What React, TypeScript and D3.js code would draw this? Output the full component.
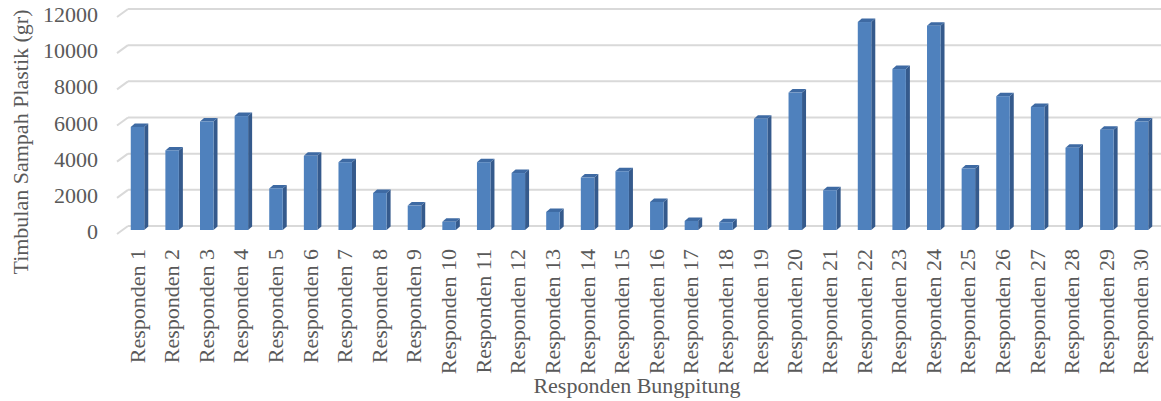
import React from "react";
import * as d3 from "d3";

const categories: string[] = Array.from({ length: 30 }, (_, i) => `Responden ${i + 1}`);
const values: number[] = [
  5700, 4400, 6000, 6300, 2300, 4100, 3750, 2050, 1350, 450,
  3750, 3150, 1000, 2900, 3250, 1550, 500, 430, 6150, 7600,
  2200, 11500, 8900, 11300, 3400, 7400, 6800, 4550, 5550, 6000,
];
const yTicks: number[] = [0, 2000, 4000, 6000, 8000, 10000, 12000];
const yTitle = "Timbulan Sampah Plastik (gr)";
const xTitle = "Responden Bungpitung";

const W = 1161;
const H = 401;
const FONT = "'Liberation Serif', 'Times New Roman', serif";
const TEXT = "#595959";
const GRID = "#D9D9D9";

export default function App() {
  const yBack = d3.scaleLinear().domain([0, 12000]).range([226, 9]);
  const depthX = 11;
  const depthY = 8;
  const wallLeft = 128;
  const x = d3.scaleBand<string>().domain(categories).range([120.2, 1158.8]).paddingInner(0);
  const barW = 13.5;
  const bdx = 4;
  const bdy = 3.5;
  const barOffset = 4;

  return (
    <svg
      width={W}
      height={H}
      style={{ position: "absolute", left: 0, top: 0, background: "#fff" }}
      fontFamily={FONT}
    >
      <rect width={W} height={H} fill="#fff" />
      {yTicks.map((t) => {
        const yb = yBack(t);
        return (
          <g key={t}>
            <line x1={wallLeft - depthX} y1={yb + depthY} x2={wallLeft} y2={yb} stroke={GRID} strokeWidth={2} />
            <line x1={wallLeft} y1={yb} x2={W} y2={yb} stroke={GRID} strokeWidth={2} />
            <text
              x={98}
              y={yb + depthY}
              textAnchor="end"
              dominantBaseline="middle"
              fontSize={22}
              fill={TEXT}
            >
              {t}
            </text>
          </g>
        );
      })}
      {values.map((v, i) => {
        const cx = (x(categories[i]) as number) + x.bandwidth() / 2;
        const x0 = cx - barW / 2;
        const x1 = cx + barW / 2;
        const yb = yBack(0) + barOffset;
        const yt = yBack(v) + barOffset;
        return (
          <g key={i}>
            <polygon
              points={`${x1},${yt} ${x1 + bdx},${yt - bdy} ${x1 + bdx},${yb - bdy} ${x1},${yb}`}
              fill="#355A8C"
            />
            <polygon
              points={`${x0},${yt} ${x0 + bdx},${yt - bdy} ${x1 + bdx},${yt - bdy} ${x1},${yt}`}
              fill="#3E6AA3"
            />
            <rect x={x0} y={yt} width={barW} height={yb - yt} fill="#4F81BD" />
          </g>
        );
      })}
      {categories.map((c) => {
        const cx = (x(c) as number) + x.bandwidth() / 2;
        return (
          <text
            key={c}
            transform={`translate(${cx + 7},249) rotate(-90)`}
            textAnchor="end"
            fontSize={22}
            fill={TEXT}
          >
            {c}
          </text>
        );
      })}
      <text x={637} y={393} textAnchor="middle" fontSize={22} fill={TEXT}>
        {xTitle}
      </text>
      <text transform="translate(28,142) rotate(-90)" textAnchor="middle" fontSize={22} fill={TEXT}>
        {yTitle}
      </text>
    </svg>
  );
}
